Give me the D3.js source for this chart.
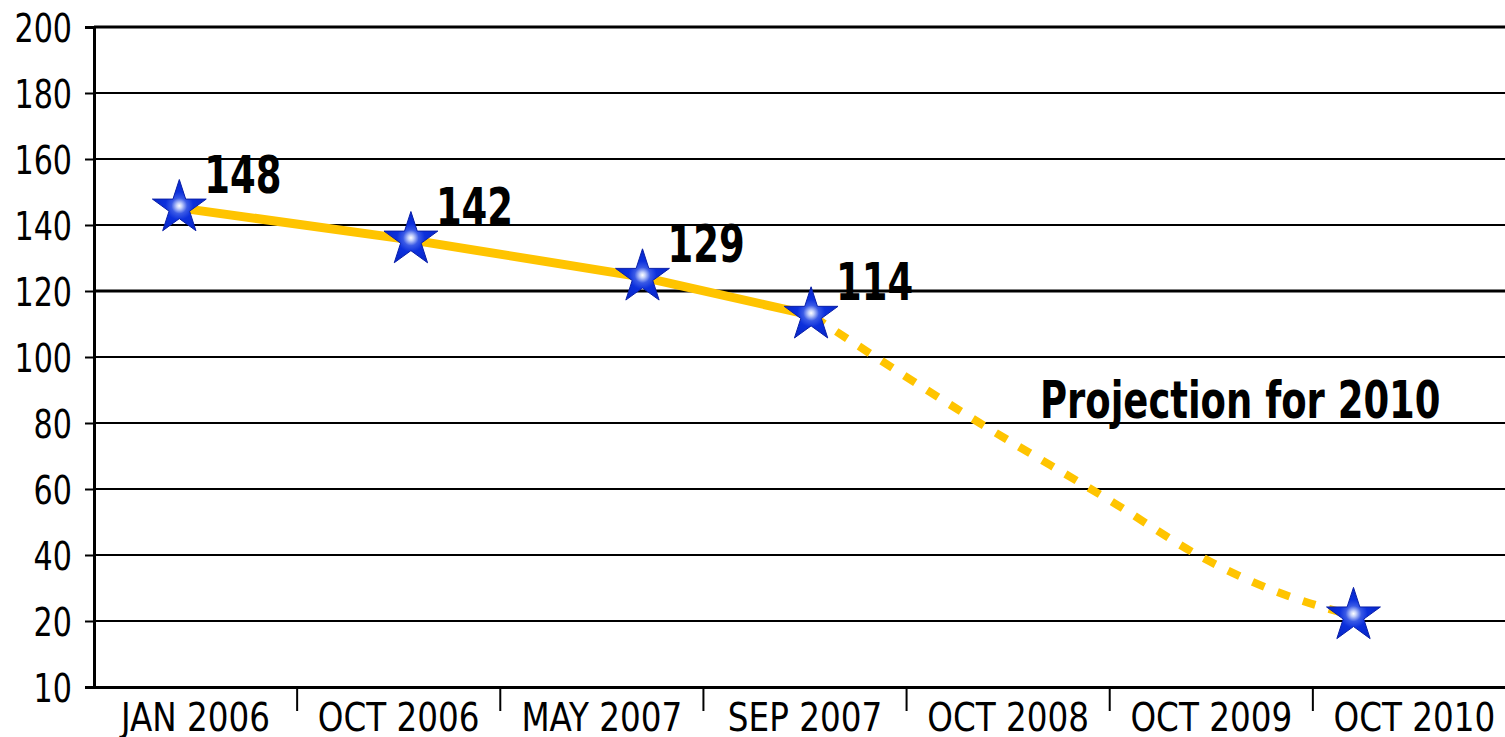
<!DOCTYPE html>
<html lang="en">
<head>
  <meta charset="UTF-8">
  <title>Projection for 2010</title>
  <style>
    body { margin: 0; background: #fff; }
    svg { display: block; }
    text { font-family: "Liberation Sans Narrow", "DejaVu Sans Condensed", sans-serif; fill: #000; }
  </style>
</head>
<body>
  <svg></svg>
  <script src="https://cdn.jsdelivr.net/npm/d3@7"></script>
  <script>
    // data
    var categories = ["JAN 2006", "OCT 2006", "MAY 2007", "SEP 2007", "OCT 2008", "OCT 2009", "OCT 2010"]
    var yTickValues = [0, 20, 40, 60, 80, 100, 120, 140, 160, 180, 200]
    var yTickLabels = ["10", "20", "40", "60", "80", "100", "120", "140", "160", "180", "200"]
    // position along the category axis (0 = left edge of first category)
    var pointPos = [0.42, 1.56, 2.70, 3.53]
    var pointValues = [145.2, 135.5, 124.2, 112.7]
    var pointLabels = ["148", "142", "129", "114"]
    var projPos = [3.53, 4.36, 5.02, 5.46, 5.80, 6.20]
    var projValues = [112.7, 80, 55.8, 39.1, 29.4, 21.6]
    var projLabel = "Projection for 2010"

    var width = 1505
    var height = 737
    var plotL = 94, plotR = 1516, plotT = 27, plotB = 687

    var svg = d3.select("svg")
      .attr("width", width)
      .attr("height", height)

    var x = d3.scaleLinear().domain([0, categories.length]).range([plotL, plotR])
    var band = d3.scaleBand().domain(categories).range([plotL, plotR])
    var y = d3.scaleLinear().domain([0, 200]).range([plotB, plotT])

    // squeeze the condensed font a bit more so it looks like the original
    function squeeze(sel, sx, dx, dy) {
      sel.each(function() {
        var t = d3.select(this)
        var tx = +t.attr("x") || 0
        var ty = +t.attr("y") || 0
        t.attr("x", 0).attr("y", 0)
          .attr("transform", `translate(${tx + (dx || 0)}, ${ty + (dy || 0)}) scale(${sx}, 1)`)
      })
    }

    // gradient for the stars
    var grad = svg.append("defs").append("radialGradient")
      .attr("id", "starGrad")
      .attr("gradientUnits", "userSpaceOnUse")
      .attr("cx", 0).attr("cy", -2).attr("r", 28)
    grad.append("stop").attr("offset", "0%").attr("stop-color", "#ffffff")
    grad.append("stop").attr("offset", "10%").attr("stop-color", "#c4d0fa")
    grad.append("stop").attr("offset", "28%").attr("stop-color", "#3a5ae6")
    grad.append("stop").attr("offset", "50%").attr("stop-color", "#0c30dc")
    grad.append("stop").attr("offset", "100%").attr("stop-color", "#0626c8")

    // grid lines
    svg.append("g")
      .selectAll("line")
      .data(yTickValues.filter(d => d > 0))
      .join("line")
      .attr("x1", plotL).attr("x2", plotR)
      .attr("y1", d => y(d)).attr("y2", d => y(d))
      .attr("stroke", "#000")
      .attr("stroke-width", d => d === 200 || d === 120 ? 3 : 2)

    // y axis
    var yAxis = svg.append("g")
      .attr("transform", `translate(${plotL}, 0)`)
      .call(d3.axisLeft(y)
        .tickValues(yTickValues)
        .tickFormat((d, i) => yTickLabels[i])
        .tickSize(9)
        .tickPadding(13))
    yAxis.select(".domain").attr("stroke-width", 3)
    yAxis.selectAll(".tick line").attr("stroke-width", 2)
    yAxis.selectAll("text")
      .style("font-size", "39px")
      .attr("dy", "0.36em")
      .call(squeeze, 0.86)

    // x axis: labels centred in bands, separators between bands
    var xAxis = svg.append("g")
      .attr("transform", `translate(0, ${plotB})`)
      .call(d3.axisBottom(band).tickSize(0).tickPadding(0))
    xAxis.select(".domain").attr("stroke-width", 3)
    xAxis.selectAll("text")
      .style("font-size", "39px")
      .attr("y", 44)
      .attr("dy", 0)
      .call(squeeze, 0.93)
    xAxis.selectAll(".sep")
      .data(categories.slice(1))
      .join("line")
      .attr("class", "sep")
      .attr("x1", d => band(d)).attr("x2", d => band(d))
      .attr("y1", 0).attr("y2", 24)
      .attr("stroke", "#000")
      .attr("stroke-width", 2)

    // lines
    var line = d3.line()
      .x(d => x(d[0]))
      .y(d => y(d[1]))
    svg.append("path")
      .datum(d3.zip(pointPos, pointValues))
      .attr("d", line)
      .attr("fill", "none")
      .attr("stroke", "#ffc400")
      .attr("stroke-width", 9)
    svg.append("path")
      .datum(d3.zip(projPos, projValues))
      .attr("d", line.curve(d3.curveMonotoneX))
      .attr("fill", "none")
      .attr("stroke", "#ffc400")
      .attr("stroke-width", 8)
      .attr("stroke-dasharray", "13,14")
      .attr("stroke-dashoffset", -30)

    // stars
    var stars = d3.zip(pointPos, pointValues)
    stars.push([projPos[projPos.length - 1], projValues[projValues.length - 1]])
    var star = d3.symbol().type(d3.symbolStar).size(900)
    svg.append("g")
      .selectAll("path")
      .data(stars)
      .join("path")
      .attr("d", star)
      .attr("transform", d => `translate(${x(d[0])}, ${y(d[1])})`)
      .attr("fill", "url(#starGrad)")
      .attr("stroke", "#0a1fa8")
      .attr("stroke-width", 1)

    // value labels
    svg.append("g")
      .selectAll("text")
      .data(d3.zip(pointPos, pointValues, pointLabels))
      .join("text")
      .attr("x", d => x(d[0]) + 25)
      .attr("y", d => y(d[1]) - 15)
      .style("font-size", "52px")
      .style("font-weight", "bold")
      .text(d => d[2])
      .call(squeeze, 0.79)

    svg.append("text")
      .attr("x", 1040)
      .attr("y", 418)
      .style("font-size", "52px")
      .style("font-weight", "bold")
      .text(projLabel)
      .call(squeeze, 0.79)
  </script>
</body>
</html>
